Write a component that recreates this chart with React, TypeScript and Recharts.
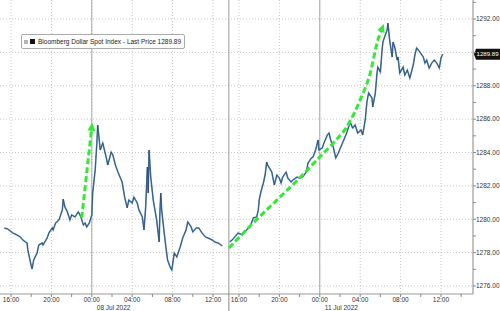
import { LineChart, Line, XAxis, YAxis, CartesianGrid, ReferenceLine } from "recharts"

// times are "day hh:mm" in July 2022, prices are index levels
const fridayTimes = [
  "7 15:20", "7 15:40", "7 16:10", "7 16:35", "7 16:55", "7 17:10", "7 17:25", "7 17:35", "7 17:40", "7 17:55",
  "7 18:05", "7 18:15", "7 18:35", "7 18:45", "7 19:05", "7 19:10", "7 19:35", "7 19:45", "7 20:05", "7 20:10",
  "7 20:25", "7 20:45", "7 21:05", "7 21:10", "7 21:20", "7 21:35", "7 21:50", "7 22:00", "7 22:20", "7 22:40",
  "7 22:55", "7 23:10", "7 23:20", "7 23:30", "7 23:45", "8 00:00", "8 00:05", "8 00:20", "8 00:30", "8 00:35",
  "8 00:50", "8 01:05", "8 01:25", "8 01:35", "8 01:55", "8 02:05", "8 02:20", "8 02:35", "8 03:00", "8 03:15",
  "8 03:30", "8 03:40", "8 04:00", "8 04:10", "8 04:30", "8 04:40", "8 05:00", "8 05:10", "8 05:20", "8 05:30",
  "8 05:35", "8 05:40", "8 05:50", "8 06:05", "8 06:15", "8 06:25", "8 06:40", "8 06:45", "8 06:50", "8 06:55",
  "8 07:10", "8 07:20", "8 07:30", "8 07:45", "8 07:55", "8 08:10", "8 08:25", "8 08:45", "8 09:00", "8 09:20",
  "8 09:30", "8 09:50", "8 10:00", "8 10:20", "8 10:35", "8 10:55", "8 11:15", "8 11:30", "8 11:55", "8 12:10",
  "8 12:30", "8 12:55",
]
const fridayPrices = [
  1279.48, 1279.42, 1279.18, 1279.06, 1278.94, 1278.76, 1278.64, 1278.58, 1278.16, 1277.44,
  1277.02, 1277.56, 1277.98, 1278.46, 1278.58, 1278.46, 1278.88, 1279.18, 1279.48, 1279.36,
  1279.78, 1279.96, 1280.56, 1281.21, 1280.74, 1280.44, 1279.96, 1280.26, 1280.14, 1280.44,
  1280.14, 1279.66, 1279.78, 1279.54, 1279.78, 1280.26, 1281.57, 1282.95, 1284.57, 1285.65,
  1284.15, 1284.57, 1283.73, 1283.25, 1284.03, 1283.85, 1283.25, 1282.83, 1282.23, 1281.33,
  1280.68, 1281.15, 1280.97, 1281.33, 1280.97, 1280.56, 1280.14, 1279.36, 1280.74, 1283.13,
  1281.57, 1284.15, 1282.53, 1281.15, 1280.56, 1279.96, 1278.64, 1280.56, 1281.57, 1280.56,
  1279.18, 1278.34, 1277.56, 1277.14, 1276.96, 1277.98, 1277.74, 1278.34, 1278.88, 1279.36,
  1279.84, 1279.54, 1279.24, 1279.48, 1279.48, 1279.18, 1278.94, 1278.88, 1278.76, 1278.64,
  1278.58, 1278.4,
]

const mondayTimes = [
  "10 15:05", "10 15:20", "10 15:35", "10 15:55", "10 16:20", "10 16:35", "10 16:55", "10 17:10", "10 17:25", "10 17:45",
  "10 17:55", "10 18:00", "10 18:10", "10 18:25", "10 18:35", "10 18:45", "10 18:50", "10 19:15", "10 19:30", "10 19:45",
  "10 20:00", "10 20:10", "10 20:20", "10 20:40", "10 20:50", "10 21:10", "10 21:20", "10 21:45", "10 22:00", "10 22:20",
  "10 22:40", "10 22:50", "10 23:10", "10 23:20", "10 23:35", "10 23:50", "10 23:55", "11 00:15", "11 00:25", "11 00:45",
  "11 00:55", "11 01:05", "11 01:20", "11 01:35", "11 01:50", "11 02:05", "11 02:20", "11 02:40", "11 03:00", "11 03:15",
  "11 03:30", "11 03:45", "11 04:05", "11 04:15", "11 04:30", "11 04:40", "11 04:50", "11 05:10", "11 05:15", "11 05:30",
  "11 05:40", "11 05:45", "11 06:00", "11 06:10", "11 06:15", "11 06:25", "11 06:40", "11 06:45", "11 06:55", "11 07:10",
  "11 07:15", "11 07:25", "11 07:40", "11 07:45", "11 07:55", "11 08:15", "11 08:25", "11 08:40", "11 08:55", "11 09:15",
  "11 09:25", "11 09:35", "11 09:55", "11 10:15", "11 10:25", "11 10:35", "11 10:50", "11 11:05", "11 11:20", "11 11:35",
  "11 11:50", "11 12:00", "11 12:10",
]
const mondayPrices = [
  1278.64, 1278.76, 1278.94, 1279.18, 1279.06, 1279.24, 1279.48, 1279.66, 1280.08, 1280.14,
  1280.56, 1281.15, 1281.63, 1282.17, 1282.65, 1283.43, 1283.25, 1282.83, 1282.05, 1282.65,
  1282.47, 1282.17, 1282.53, 1282.83, 1282.47, 1282.23, 1282.35, 1282.53, 1282.47, 1282.55,
  1282.83, 1283.37, 1283.67, 1283.73, 1284.15, 1284.75, 1284.15, 1284.27, 1284.57, 1285.05,
  1285.17, 1284.75, 1284.33, 1283.67, 1283.97, 1284.33, 1284.69, 1285.17, 1285.83, 1285.47,
  1285.65, 1285.17, 1285.35, 1285.05, 1285.95, 1287.03, 1287.57, 1287.27, 1286.73, 1287.57,
  1288.76, 1289.12, 1288.82, 1290.14, 1290.62, 1290.92, 1291.34, 1291.76, 1290.74, 1289.72,
  1290.62, 1290.32, 1289.54, 1289.72, 1288.76, 1289.12, 1288.64, 1288.94, 1288.46, 1289.24,
  1289.84, 1290.26, 1290.02, 1289.72, 1289.36, 1289.54, 1289.06, 1289.36, 1289.54, 1289.36,
  1289.06, 1289.66, 1289.89,
]

const firstArrowTimes = ["7 23:00", "7 23:58"]
const firstArrowPrices = [1280.08, 1285.35]
const secondArrowTimes = ["10 15:00", "10 17:25", "10 19:45", "10 22:00", "11 00:00", "11 01:20", "11 02:40", "11 04:00", "11 05:00", "11 05:45", "11 06:05"]
const secondArrowPrices = [1278.28, 1279.78, 1281.15, 1282.47, 1283.73, 1284.57, 1285.53, 1287.15, 1288.76, 1290.74, 1291.3]

const majorTimes = ["7 16:00", "7 20:00", "8 00:00", "8 04:00", "8 08:00", "8 12:00", "10 16:00", "10 20:00", "11 00:00", "11 04:00", "11 08:00", "11 12:00"]
const minorTimes = ["7 18:00", "7 22:00", "8 02:00", "8 06:00", "8 10:00", "10 18:00", "10 22:00", "11 02:00", "11 06:00", "11 10:00", "11 14:00"]
const dayStarts = ["8 00:00", "11 00:00"]
const dayLabels = ["08 Jul 2022", "11 Jul 2022"]
const sessionBreak = "10 15:00"
const priceTicks = [1276, 1277, 1278, 1279, 1280, 1281, 1282, 1283, 1284, 1285, 1286, 1287, 1288, 1289, 1290, 1291, 1292, 1293]
const lastPrice = 1289.89
const seriesName = "Bloomberg Dollar Spot Index - Last Price"

// weekend hours squeezed out of the time axis
const GAP = 49.43
const toX = (t: string) => {
  const [d, hm] = t.split(" ")
  const [h, m] = hm.split(":").map(Number)
  const hours = (Number(d) - 7) * 24 + h + m / 60
  return Number(d) >= 10 ? hours - GAP : hours
}

const priceData = [
  ...fridayTimes.map((t, i) => ({ x: toX(t), p: fridayPrices[i] })),
  { x: (toX("8 12:55") + toX(sessionBreak)) / 2, p: null },
  ...mondayTimes.map((t, i) => ({ x: toX(t), p: mondayPrices[i] })),
]
const firstArrow = firstArrowTimes.map((t, i) => ({ x: toX(t), p: firstArrowPrices[i] }))
const secondArrow = secondArrowTimes.map((t, i) => ({ x: toX(t), p: secondArrowPrices[i] }))

const majorX = majorTimes.map(toX)
const breakX = toX(sessionBreak)
const xTicks = [...majorX, ...minorTimes.map(toX), breakX].sort((a, b) => a - b)
const labelFor = new Map<number, string>(majorTimes.map((t) => [toX(t), t.split(" ")[1]]))
const dayFor = new Map<number, string>(dayStarts.map((t, i) => [toX(t), dayLabels[i]]))

const FONT = "'Liberation Sans', Arial, sans-serif"
const GREEN = "#33ea33"

const TimeTick = (props: any) => {
  const { x, y, payload } = props
  const v = payload.value
  if (v === breakX) {
    return <line x1={x} x2={x} y1={y} y2={y + 17} stroke="#888" />
  }
  const label = labelFor.get(v)
  const day = dayFor.get(v)
  return (
    <g>
      <line x1={x} x2={x} y1={y} y2={y + 3} stroke="#888" />
      {label && (
        <text x={x} y={y + 8} textAnchor="middle" fontSize={6.5} fontFamily={FONT} fill="#333">
          {label}
        </text>
      )}
      {day && (
        <text x={x + 5} y={y + 16} textAnchor="start" fontSize={6.5} fontFamily={FONT} fill="#333">
          {day}
        </text>
      )}
    </g>
  )
}

const PriceTick = (props: any) => {
  const { x, y, payload } = props
  const v = payload.value
  if (v % 2 !== 0 || v === 1290) return null
  return (
    <text x={x} y={y + 2.3} textAnchor="start" fontSize={6.5} fontFamily={FONT} fill="#333">
      {v.toFixed(2)}
    </text>
  )
}

const LastLabel = (props: any) => {
  const { viewBox } = props
  const x0 = viewBox.x + viewBox.width
  const y = viewBox.y
  return (
    <g>
      <polygon
        points={`${x0 + 1},${y} ${x0 + 3},${y - 5.5} ${500},${y - 5.5} ${500},${y + 5.5} ${x0 + 3},${y + 5.5}`}
        fill="#111"
      />
      <text x={x0 + 3.5} y={y + 2.2} fontSize={6.1} fontFamily={FONT} fill="#fff">
        {lastPrice.toFixed(2)}
      </text>
    </g>
  )
}

export default function App() {
  return (
    <div style={{ position: "absolute", left: 0, top: 0, width: 500, height: 311, background: "#fff" }}>
      <LineChart width={500} height={311} margin={{ top: 0, right: 0, bottom: 0, left: 0 }}>
        <defs>
          <marker
            id="greenHead"
            viewBox="0 0 10 10"
            refX="1"
            refY="5"
            markerWidth="9"
            markerHeight="8"
            markerUnits="userSpaceOnUse"
            orient="auto"
          >
            <path d="M0,0 L10,5 L0,10 z" fill={GREEN} />
          </marker>
        </defs>
        <CartesianGrid
          horizontalValues={[1276, 1278, 1280, 1282, 1284, 1286, 1288, 1290, 1292]}
          verticalValues={majorX}
          stroke="#c4c4c4"
          strokeDasharray="1 2"
        />
        <XAxis
          type="number"
          dataKey="x"
          domain={[14.91, 61.74]}
          allowDataOverflow
          ticks={xTicks}
          interval={0}
          height={17}
          tickLine={false}
          tickSize={0}
          tickMargin={0}
          axisLine={{ stroke: "#999" }}
          tick={<TimeTick />}
        />
        <YAxis
          orientation="right"
          type="number"
          domain={[1275.52, 1293.14]}
          allowDataOverflow
          ticks={priceTicks}
          interval={0}
          width={27}
          tickSize={3}
          tickMargin={0}
          tickLine={{ stroke: "#888" }}
          axisLine={{ stroke: "#888" }}
          tick={<PriceTick />}
        />
        {dayStarts.map((t) => (
          <ReferenceLine key={t} x={toX(t)} stroke="#a8a8a8" />
        ))}
        <ReferenceLine x={breakX} stroke="#999" />
        <ReferenceLine y={lastPrice} stroke="none" label={<LastLabel />} />
        <Line
          data={priceData}
          dataKey="p"
          type="linear"
          stroke="#5a8cc0"
          strokeWidth={1.6}
          dot={false}
          activeDot={false}
          connectNulls={false}
          isAnimationActive={false}
        />
        <Line
          data={priceData}
          dataKey="p"
          type="linear"
          stroke="#1a2a3a"
          strokeWidth={0.5}
          dot={false}
          activeDot={false}
          connectNulls={false}
          isAnimationActive={false}
        />
        <Line
          data={firstArrow}
          dataKey="p"
          type="linear"
          stroke={GREEN}
          strokeWidth={3}
          strokeDasharray="6 3"
          markerEnd="url(#greenHead)"
          dot={false}
          activeDot={false}
          isAnimationActive={false}
        />
        <Line
          data={secondArrow}
          dataKey="p"
          type="monotone"
          stroke={GREEN}
          strokeWidth={3}
          strokeDasharray="6 3"
          markerEnd="url(#greenHead)"
          dot={false}
          activeDot={false}
          isAnimationActive={false}
        />
      </LineChart>
      <div
        style={{
          position: "absolute",
          left: 21,
          top: 34,
          height: 13,
          padding: "0 3px 0 2px",
          border: "1px solid #aaa",
          borderRadius: 2,
          background: "#fff",
          display: "flex",
          alignItems: "center",
          fontFamily: FONT,
          fontSize: 6.5,
          color: "#222",
          whiteSpace: "nowrap",
        }}
      >
        <span style={{ width: 4, height: 4, background: "#b5b5b5", marginRight: 2 }} />
        <span style={{ width: 5, height: 5, background: "#111", marginRight: 3 }} />
        {seriesName} {lastPrice.toFixed(2)}
      </div>
    </div>
  )
}
